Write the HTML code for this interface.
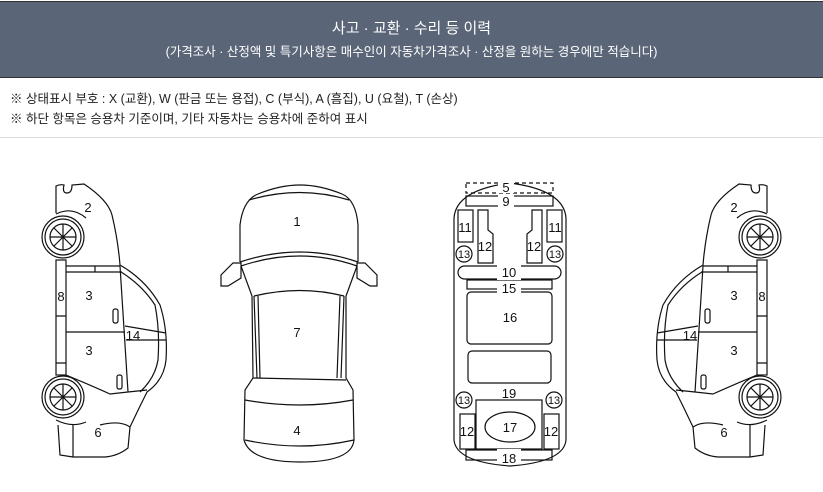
<!DOCTYPE html><html><head><meta charset="utf-8"><style>
body{margin:0;width:823px;height:492px;background:#fff;font-family:"Liberation Sans","Noto Sans CJK KR",sans-serif;overflow:hidden;position:relative}
.hd{position:absolute;left:0;top:1px;width:823px;height:75px;background:#5a6678;border-top:1px solid #333;border-bottom:1px solid #333;color:#fff;text-align:center}
.t1{position:absolute;top:15px;width:100%;font-size:15px}
.t2{position:absolute;top:39px;width:100%;font-size:12.5px}
.lg{position:absolute;left:10px;font-size:12.5px;color:#222}
.sep{position:absolute;left:0;top:137px;width:823px;height:1px;background:#ddd}
svg{position:absolute;left:0;top:0}
</style></head><body>
<div class="hd"><div class="t1">사고 · 교환 · 수리 등 이력</div><div class="t2">(가격조사 · 산정액 및 특기사항은 매수인이 자동차가격조사 · 산정을 원하는 경우에만 적습니다)</div></div>
<div class="lg" style="top:88px">※ 상태표시 부호 : X (교환), W (판금 또는 용접), C (부식), A (흠집), U (요철), T (손상)</div>
<div class="lg" style="top:108px">※ 하단 항목은 승용차 기준이며, 기타 자동차는 승용차에 준하여 표시</div>
<div class="sep"></div>
<svg width="823" height="492" viewBox="0 0 823 492" fill="none" stroke="#111" stroke-width="1.2">
<defs>
<g id="side">
<path d="M56,213 L56,186 Q60,184 64,185 Q62,193 67,193 Q72,193 72,185 L84,184 Q108,200 112,215 Q118,240 120,265 Q146,280 160,305 Q168,330 166,360 Q164,380 147,392 Q138,410 130,427 L128,448 Q118,456 105,457 L73,457 L60,455 L58,425"/>
<path d="M121,272 Q142,285 155,305 Q160,330 158,360 Q155,378 140,392"/>
<circle cx="63" cy="237" r="21"/><circle cx="63" cy="237" r="18"/><circle cx="63" cy="237" r="13"/>
<path d="M50,237H76M63,224V250M54,228L72,246M72,228L54,246"/>
<circle cx="63" cy="397" r="21"/><circle cx="63" cy="397" r="18"/><circle cx="63" cy="397" r="13"/>
<path d="M50,397H76M63,384V410M54,388L72,406M72,388L54,406"/>
<path d="M56,214 Q72,206 86,218 M56,420 Q72,428 86,422"/>
<rect x="56" y="260" width="10" height="115"/><path d="M56,316H66M56,363H66"/>
<path d="M66,266H120M66,272H122M95,266V272M66,332H125M120,266L128,392M66,375Q90,385 110,394L128,392L147,390"/>
<path d="M125,326L166,333M126,340L166,340"/>
<rect x="113" y="309" width="5" height="14" rx="2"/><rect x="117" y="375" width="5" height="14" rx="2"/>
<path d="M73,425V457M130,427Q120,420 100,425"/>
</g>
</defs>
<use href="#side"/>
<use href="#side" transform="translate(823,0) scale(-1,1)"/>
<!-- top view -->
<path d="M240,262 L240,225 Q243,200 258,194 Q280,185 300,185 Q320,185 342,194 Q356,200 358,225 L358,262"/>
<path d="M249,200 Q300,185 349,200"/>
<path d="M240,262 Q300,242 358,262 M241,266 Q300,246 357,266"/>
<path d="M241,266 L252,296 L253,378 L245,390 L244,440 Q250,462 300,462 Q352,462 354,440 L353,390 L346,378 L346,296 L357,266"/>
<path d="M233,263L241,263L241,278L228,286L221,286L221,275Z M365,263L357,263L357,278L370,286L377,286L377,275Z"/>
<path d="M254,296 Q300,285 344,296 M254,296 L257,378 M344,296 L341,378 M258,296 L260,378 M340,296 L337,378"/>
<path d="M253,378 L346,380 M245,400 Q300,410 353,400 M245,440 Q300,452 354,440"/>
<!-- underbody -->
<path d="M454,440 L454,218 Q456,190 510,183 Q564,190 566,218 L566,440 Q564,462 510,466 Q456,462 454,440Z"/>
<rect x="466" y="183" width="87" height="10" stroke-dasharray="4,3"/>
<rect x="466" y="196" width="87" height="10"/>
<rect x="458" y="210" width="15" height="32"/><rect x="547" y="210" width="15" height="32"/>
<path d="M478,210H488V230L493,234V263H478Z M542,210H532V230L527,234V263H542Z"/>
<circle cx="464" cy="254" r="8"/><circle cx="555" cy="254" r="8"/>
<rect x="458" y="266" width="103" height="13" rx="6.5"/>
<rect x="467" y="280" width="85" height="9"/>
<rect x="467" y="292" width="85" height="52" rx="4"/>
<rect x="468" y="351" width="83" height="32" rx="4"/>
<circle cx="464" cy="400" r="8"/><circle cx="554" cy="400" r="8"/>
<rect x="476" y="400" width="66" height="49"/>
<ellipse cx="510" cy="427" rx="25" ry="15"/>
<rect x="460" y="414" width="15" height="35"/><rect x="544" y="414" width="15" height="35"/>
<rect x="466" y="450" width="86" height="10"/>
<g fill="#fff" stroke="none"><rect x="498" y="181" width="16" height="12"/><rect x="498" y="195" width="16" height="12"/><rect x="497" y="265" width="24" height="15"/><rect x="497" y="282" width="24" height="12"/><rect x="497" y="449" width="24" height="13"/></g>
<g fill="#111" stroke="none" font-family="Liberation Sans,sans-serif" font-size="13" text-anchor="middle">
<text x="88" y="212">2</text><text x="61" y="301">8</text><text x="89" y="300">3</text><text x="89" y="355">3</text><text x="133" y="340">14</text><text x="98" y="437">6</text>
<text x="734" y="212">2</text><text x="762" y="301">8</text><text x="734" y="300">3</text><text x="734" y="355">3</text><text x="690" y="340">14</text><text x="724" y="437">6</text>
<text x="297" y="226">1</text><text x="297" y="337">7</text><text x="297" y="435">4</text>
<text x="506" y="192">5</text><text x="506" y="206">9</text>
<text x="465" y="232">11</text><text x="555" y="232">11</text>
<text x="485" y="251">12</text><text x="534" y="251">12</text>
<text x="464" y="258" font-size="11">13</text><text x="555" y="258" font-size="11">13</text>
<text x="509" y="277">10</text><text x="509" y="293">15</text><text x="510" y="322">16</text><text x="509" y="398">19</text>
<text x="464" y="404" font-size="11">13</text><text x="554" y="404" font-size="11">13</text>
<text x="510" y="432">17</text><text x="467" y="436">12</text><text x="551" y="436">12</text><text x="509" y="463">18</text>
</g>
</svg>
</body></html>
